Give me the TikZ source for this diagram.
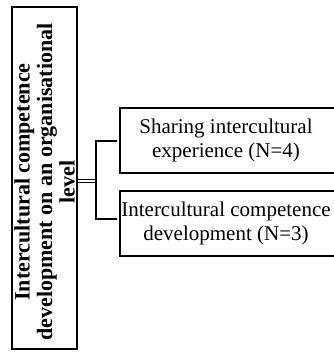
\documentclass[tikz,border=0pt]{standalone}
\usepackage{fontspec}
\setmainfont{Liberation Serif}
\begin{document}
\begin{tikzpicture}[x=1pt,y=-1pt,
  frame/.style={draw=black, line width=2.2pt, fill=white},
  conn/.style={draw=black, line width=2pt},
  dbl/.style={draw=black, double=white, line width=1.4pt, double distance=1.2pt},
  lefttext/.style={rotate=90, align=center, inner sep=0pt, font=\fontsize{22}{22.5}\selectfont\bfseries},
  righttext/.style={align=center, inner sep=0pt, font=\fontsize{21}{24}\selectfont}]
\useasboundingbox (0,0) rectangle (333,354);
\fill[white] (0,0) rectangle (333,354);
% left box
\node[frame, minimum width=65pt, minimum height=342pt, inner sep=0pt] (org) at (44.5,178) {};
\node[lefttext] (orgtext) at (44.5,182) {Intercultural competence\\development on an organisational\\level};
% right boxes
\node[frame, minimum width=219pt, minimum height=65pt, inner sep=0pt, anchor=north west] (top) at (119,107) {};
\node[righttext] (toptext) at (226,140) {Sharing intercultural\\experience (N=4)};
\node[frame, minimum width=219pt, minimum height=65pt, inner sep=0pt, anchor=north west] (bot) at (119,190) {};
\node[righttext] (bottext) at (226,223) {Intercultural competence\\development (N=3)};
% connectors
\coordinate (j) at (96,181);
\coordinate (a) at (96,141);
\coordinate (b) at (96,219);
\draw[dbl] (org.east |- j) -- (j);
\draw[conn] (a) -- (b);
\draw[conn, shorten >=2pt] ([xshift=-1pt]a) -- (a -| top.west);
\draw[conn, shorten >=2pt] ([xshift=-1pt]b) -- (b -| bot.west);
\end{tikzpicture}
\end{document}
